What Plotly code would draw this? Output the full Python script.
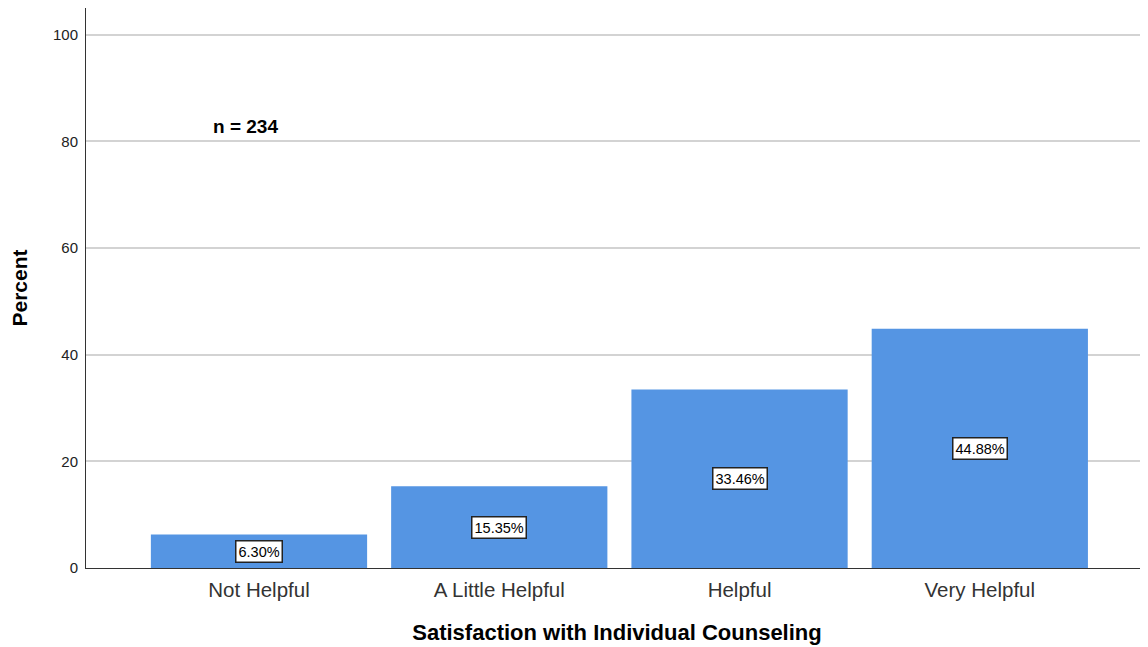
import plotly.graph_objects as go

categories = ["Not Helpful", "A Little Helpful", "Helpful", "Very Helpful"]
percents = [6.30, 15.35, 33.46, 44.88]
labels = ["6.30%", "15.35%", "33.46%", "44.88%"]
y_ticks = [0, 20, 40, 60, 80, 100]

fig = go.Figure()
fig.add_trace(go.Bar(
    x=categories, y=percents, width=0.9,
    marker=dict(color="#5595e3", line=dict(width=0)),
    hoverinfo="skip",
))

for c, v, t in zip(categories, percents, labels):
    fig.add_annotation(
        x=c, y=v / 2, text=t, showarrow=False,
        font=dict(family="Liberation Sans, Arial", size=14.5, color="#000"),
        bgcolor="white", bordercolor="#222", borderwidth=1.5, borderpad=2,
    )

fig.add_annotation(
    xref="paper", yref="y", x=0.15, xanchor="center", y=82.7, text="<b>n = 234</b>",
    showarrow=False, font=dict(family="Liberation Sans, Arial", size=19, color="#000"),
)

fig.update_layout(
    width=1140, height=639,
    margin=dict(l=78, r=0, t=0, b=79),
    paper_bgcolor="white", plot_bgcolor="white",
    showlegend=False, bargap=0.1,
    font=dict(family="Liberation Sans, Arial", color="#222"),
)
fig.update_xaxes(
    range=[-0.72, 3.70], showline=True, linecolor="#333", linewidth=1,
    showgrid=False, ticks="outside", ticklen=3, tickcolor="rgba(0,0,0,0)",
    tickfont=dict(size=20.5, color="#333"),
    title=dict(text="<b>Satisfaction with Individual Counseling</b>",
               font=dict(size=22, color="#000"), standoff=25),
)
fig.update_yaxes(
    range=[0, 105], tickvals=y_ticks, showline=True, linecolor="#333", linewidth=1,
    showgrid=True, gridcolor="#d3d3d3", gridwidth=1.5, zeroline=False,
    ticks="outside", ticklen=4, tickcolor="rgba(0,0,0,0)",
    tickfont=dict(size=15, color="#222"),
    title=dict(text="<b>Percent</b>", font=dict(size=21, color="#000"), standoff=26),
)

fig.write_html("out.html")
